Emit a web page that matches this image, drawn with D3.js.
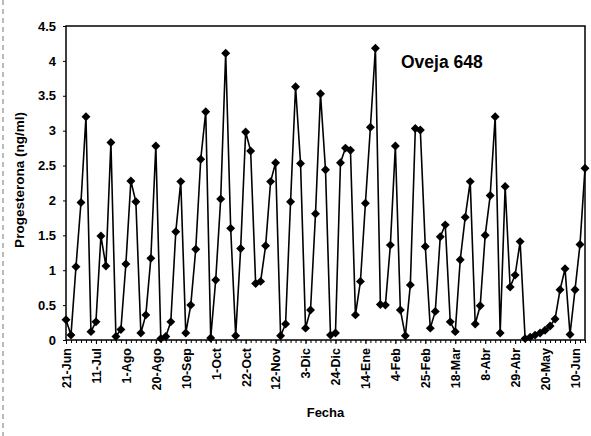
<!DOCTYPE html>
<html>
<head>
<meta charset="utf-8">
<script src="https://cdn.jsdelivr.net/npm/d3@7"></script>
<style>
  html, body { margin: 0; padding: 0; background: #fff; }
  svg { display: block; }
  text { font-family: "Liberation Sans", Arial, sans-serif; font-weight: bold; fill: #000; }
</style>
</head>
<body>
<svg id="chart" width="591" height="436"></svg>
<script>
// progesterone readings, one per sampling date (twice a week)
const values = [
  0.29, 0.07, 1.05, 1.97, 3.2, 0.12, 0.26, 1.49, 1.06, 2.83,
  0.05, 0.15, 1.09, 2.28, 1.98, 0.1, 0.36, 1.17, 2.78, 0.02,
  0.05, 0.26, 1.55, 2.27, 0.1, 0.5, 1.3, 2.59, 3.27, 0.03,
  0.86, 2.02, 4.11, 1.6, 0.06, 1.31, 2.98, 2.71, 0.81, 0.84,
  1.35, 2.27, 2.54, 0.06, 0.23, 1.98, 3.63, 2.53, 0.17, 0.43,
  1.81, 3.53, 2.44, 0.07, 0.1, 2.54, 2.75, 2.72, 0.36, 0.84,
  1.96, 3.05, 4.18, 0.51, 0.5, 1.36, 2.78, 0.43, 0.06, 0.79,
  3.03, 3.01, 1.34, 0.17, 0.41, 1.48, 1.65, 0.26, 0.12, 1.15,
  1.76, 2.27, 0.23, 0.49, 1.5, 2.07, 3.2, 0.1, 2.2, 0.76,
  0.93, 1.41, 0.02, 0.04, 0.07, 0.1, 0.14, 0.2, 0.3, 0.72,
  1.02, 0.08, 0.72, 1.37, 2.46
];

// a date label is shown every 6th sample
const tickLabels = [
  "21-Jun", "11-Jul", "1-Ago", "20-Ago", "10-Sep", "1-Oct", "22-Oct", "12-Nov", "3-Dic",
  "24-Dic", "14-Ene", "4-Feb", "25-Feb", "18-Mar", "8-Abr", "29-Abr", "20-May", "10-Jun"
];
const labelEvery = 6;

const yTicks = [0, 0.5, 1, 1.5, 2, 2.5, 3, 3.5, 4, 4.5];

const svg = d3.select("#chart");
const margin = { top: 26, right: 6, bottom: 96, left: 66 };
const width = 591;
const height = 436;
const innerWidth = width - margin.left - margin.right;
const innerHeight = height - margin.top - margin.bottom;

// scanned page edge
svg.append("line")
  .attr("x1", 3).attr("x2", 3).attr("y1", 0).attr("y2", height)
  .attr("stroke", "#777").attr("stroke-width", 1).attr("stroke-dasharray", "5,4");

const g = svg.append("g").attr("transform", `translate(${margin.left},${margin.top})`);

const x = d3.scalePoint().domain(d3.range(values.length)).range([0, innerWidth]);
const y = d3.scaleLinear().domain([0, 4.5]).range([innerHeight, 0]);

// small tick at every sample
const minorG = g.append("g").attr("transform", `translate(0,${innerHeight})`)
  .call(d3.axisBottom(x).tickSize(3).tickFormat(""));
minorG.select(".domain").remove();
minorG.selectAll("text").remove();

// date labels
const labelIdx = tickLabels.map((d, i) => i * labelEvery);
const xAxisG = g.append("g").attr("transform", `translate(0,${innerHeight})`)
  .call(d3.axisBottom(x).tickValues(labelIdx).tickSize(4)
    .tickFormat((d) => tickLabels[d / labelEvery]));
xAxisG.select(".domain").remove();
xAxisG.selectAll("line").attr("stroke", "#000");
xAxisG.selectAll("text")
  .attr("font-size", 12.5)
  .attr("transform", "rotate(-90)")
  .attr("text-anchor", "end")
  .attr("x", -8)
  .attr("y", 0)
  .attr("dy", "0.35em");

const yAxisG = g.append("g").call(
  d3.axisLeft(y).tickValues(yTicks).tickSize(3).tickPadding(7).tickFormat((d) => String(d))
);
yAxisG.select(".domain").remove();
yAxisG.selectAll("line").attr("stroke", "#000");
yAxisG.selectAll("text").attr("font-size", 13);

// plot frame
g.append("rect")
  .attr("width", innerWidth)
  .attr("height", innerHeight)
  .attr("fill", "none")
  .attr("stroke", "#000")
  .attr("stroke-width", 1.5);

const line = d3.line()
  .x((d, i) => x(i))
  .y((d) => y(d));

g.append("path")
  .datum(values)
  .attr("d", line)
  .attr("fill", "none")
  .attr("stroke", "#000")
  .attr("stroke-width", 1.6);

const diamond = d3.symbol().type(d3.symbolSquare).size(40);
g.append("g")
  .selectAll("path")
  .data(values)
  .join("path")
  .attr("d", diamond)
  .attr("fill", "#000")
  .attr("transform", (d, i) => `translate(${x(i)},${y(d)}) rotate(45)`);

g.append("text")
  .attr("x", 335)
  .attr("y", 42)
  .attr("font-size", 17.5)
  .text("Oveja 648");

g.append("text")
  .attr("transform", `translate(${-42},${innerHeight / 2 - 3}) rotate(-90)`)
  .attr("text-anchor", "middle")
  .attr("font-size", 13.5)
  .text("Progesterona (ng/ml)");

g.append("text")
  .attr("x", innerWidth / 2)
  .attr("y", innerHeight + 77)
  .attr("text-anchor", "middle")
  .attr("font-size", 13)
  .text("Fecha");
</script>
</body>
</html>
